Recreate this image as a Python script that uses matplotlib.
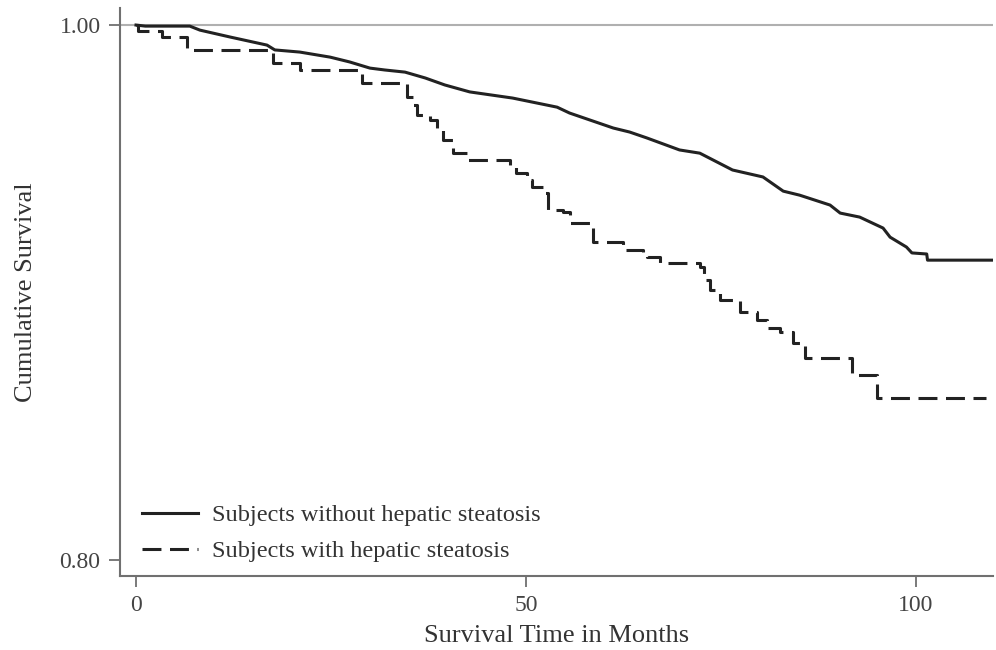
import matplotlib
matplotlib.use("Agg")
import matplotlib.pyplot as plt

# survival time (months) and cumulative survival
months_no_steatosis = [0, 1.2, 6.9, 8.2, 12.1, 16.8, 17.8, 21.0, 24.9, 27.4, 30.0, 31.9,
                       34.5, 37.1, 39.6, 42.8, 48.3, 54.0, 55.6, 61.2, 63.3, 65.5, 69.7,
                       72.3, 76.5, 80.4, 83.0, 85.1, 89.0, 90.3, 92.8, 95.8, 96.7, 98.8,
                       99.5, 101.4, 101.5, 109.9]
surv_no_steatosis = [1.0, 0.9996, 0.9996, 0.9981, 0.9955, 0.9925, 0.9907, 0.9899, 0.988,
                     0.9862, 0.9839, 0.9832, 0.9824, 0.9802, 0.9776, 0.975, 0.9727, 0.9693,
                     0.9671, 0.9615, 0.96, 0.9578, 0.9533, 0.9521, 0.9458, 0.9432, 0.9379,
                     0.9364, 0.9327, 0.9297, 0.9282, 0.9241, 0.9207, 0.917, 0.9148, 0.9144,
                     0.9121, 0.9121]

months_steatosis = [0, 0.3, 3.3, 6.5, 17.6, 21.0, 29.0, 34.7, 35.5, 36.0, 37.7, 38.6, 39.4,
                    40.6, 42.4, 47.9, 48.7, 50.1, 50.8, 52.2, 52.8, 54.7, 55.6, 58.6, 62.4,
                    65.0, 65.5, 67.2, 72.3, 72.9, 73.6, 74.9, 77.4, 79.6, 80.9, 82.6, 84.2,
                    85.8, 91.8, 95.0, 109.0]
surv_steatosis = [1.0, 0.9978, 0.9955, 0.9907, 0.9858, 0.9832, 0.9783, 0.9731, 0.970, 0.9664,
                  0.9645, 0.9607, 0.957, 0.9521, 0.9495, 0.9469, 0.9447, 0.942, 0.9394, 0.9372,
                  0.9308, 0.930, 0.926, 0.9189, 0.9159, 0.9148, 0.9133, 0.911, 0.9095, 0.9047,
                  0.9009, 0.8972, 0.8927, 0.8897, 0.8867, 0.8852, 0.8811, 0.8755, 0.8692,
                  0.8606, 0.8606]

labels = ["Subjects without hepatic steatosis", "Subjects with hepatic steatosis"]

plt.rcParams['font.family'] = ['Liberation Serif', 'DejaVu Serif']

fig = plt.figure(figsize=(9.96, 6.5), dpi=100)
ax = fig.add_axes([0.1205, 0.1138, 0.8765, 0.874])

# reference line at 1.00
ax.axhline(1.0, color='#b0b0b0', linewidth=1.5, zorder=1)

ax.plot(months_no_steatosis, surv_no_steatosis, color='#222222', linewidth=2.2,
        label=labels[0], zorder=3)
ax.step(months_steatosis, surv_steatosis, where='post', color='#222222', linewidth=2.2,
        linestyle=(0, (6.2, 2.8)), label=labels[1], zorder=3)

ax.set_xlim(-2.05, 109.9)
ax.set_ylim(0.794, 1.0064)
ax.set_xticks([0, 50, 100])
ax.set_yticks([0.80, 1.00])
ax.set_yticklabels(['0.80', '1.00'])

for side in ['top', 'right']:
    ax.spines[side].set_visible(False)
for side in ['left', 'bottom']:
    ax.spines[side].set_color('#707070')
    ax.spines[side].set_linewidth(1.5)
ax.tick_params(direction='out', length=8, width=1.3, color='#707070',
               labelsize=17, labelcolor='#444444', pad=6)

ax.set_xlabel('Survival Time in Months', fontsize=19, color='#333333', labelpad=6)
ax.set_ylabel('Cumulative Survival', fontsize=19, color='#333333', labelpad=16)

ax.legend(loc='lower left', bbox_to_anchor=(0.0, -0.014), frameon=False, fontsize=17.5,
          handlelength=2.3, handletextpad=0.6, labelspacing=0.56, labelcolor='#333333')

fig.savefig('out.png', dpi=100)
